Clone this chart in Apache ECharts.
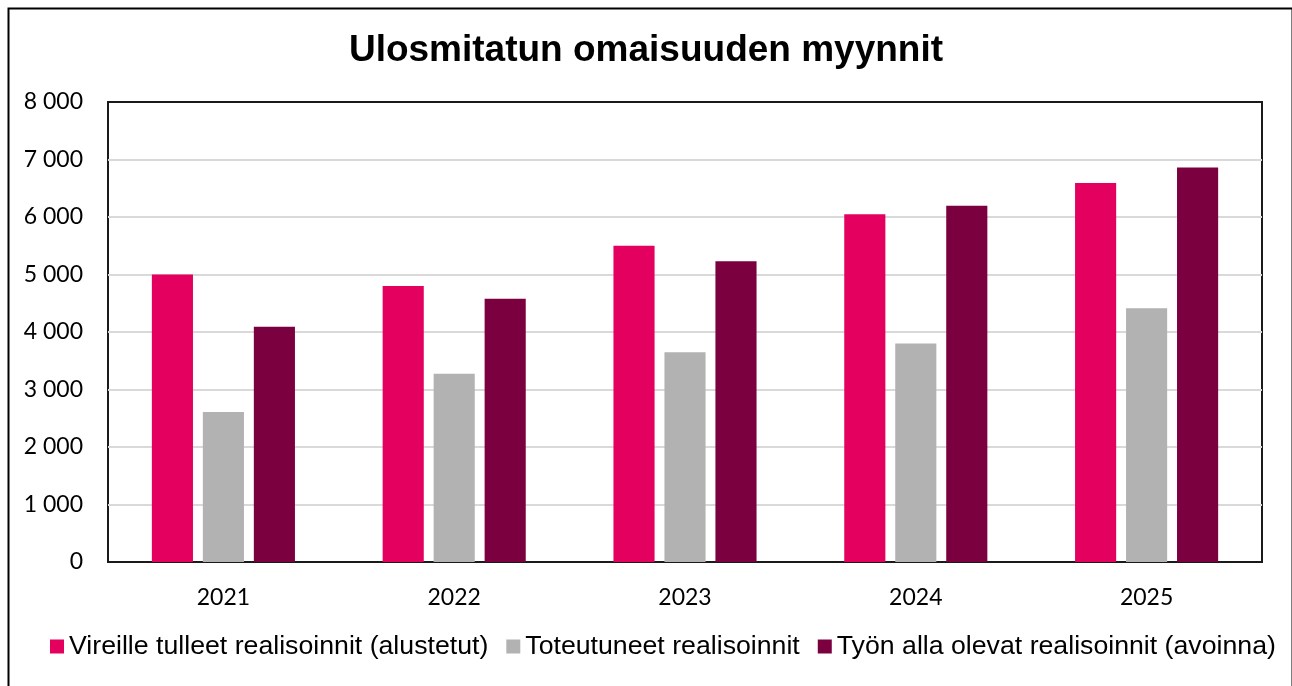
<!DOCTYPE html>
<html>
<head>
<meta charset="utf-8">
<script src="https://cdn.jsdelivr.net/npm/echarts@6/dist/echarts.min.js"></script>
<style>
  html, body { margin: 0; padding: 0; background: #fff; }
  #chart { width: 1292px; height: 686px; }
</style>
</head>
<body>
<div id="chart"></div>
<script>
const years = ['2021', '2022', '2023', '2024', '2025'];
const vireille = [5000, 4800, 5500, 6050, 6590];
const toteutuneet = [2610, 3275, 3650, 3800, 4415];
const tyonAlla = [4090, 4580, 5230, 6195, 6860];
const seriesNames = [
  'Vireille tulleet realisoinnit (alustetut)',
  'Toteutuneet realisoinnit',
  'Työn alla olevat realisoinnit (avoinna)'
];
const colors = ['#E4005F', '#B2B2B2', '#7A0040'];

const fmtThousands = v => String(v).replace(/\B(?=(\d{3})+(?!\d))/g, ' ');

const chart = echarts.init(document.getElementById('chart'), null, { renderer: 'canvas' });

const barBase = {
  type: 'bar',
  barGap: '24%',
  barCategoryGap: '38%'
};

chart.setOption({
  animation: false,
  backgroundColor: '#fff',
  color: colors,
  title: {
    text: 'Ulosmitatun omaisuuden myynnit',
    left: 'center',
    top: 27,
    textStyle: {
      fontFamily: '"Liberation Sans", Arial, sans-serif',
      fontWeight: 'bold',
      fontSize: 37,
      color: '#000'
    }
  },
  grid: {
    left: 108,
    right: 30,
    top: 102,
    bottom: 124,
    show: true,
    borderColor: '#1a1a1a',
    borderWidth: 2,
    containLabel: false
  },
  legend: {
    left: 50,
    right: 0,
    top: 633,
    padding: 0,
    itemWidth: 14,
    itemHeight: 14,
    itemGap: 18,
    icon: 'rect',
    textStyle: {
      fontFamily: '"Liberation Sans", Arial, sans-serif',
      fontSize: 26.7,
      color: '#000'
    },
    data: seriesNames
  },
  xAxis: {
    type: 'category',
    data: years,
    axisTick: { show: false },
    axisLine: { show: true, lineStyle: { color: '#1a1a1a', width: 2 } },
    axisLabel: {
      margin: 24,
      fontFamily: 'Lato, "Open Sans", sans-serif',
      fontSize: 23,
      color: '#000'
    }
  },
  yAxis: {
    type: 'value',
    min: 0,
    max: 8000,
    interval: 1000,
    axisLine: { show: false },
    axisTick: { show: false },
    splitLine: {
      showMinLine: false,
      showMaxLine: false,
      lineStyle: { color: '#D9D9D9', width: 2 }
    },
    axisLabel: {
      margin: 25,
      fontFamily: 'Lato, "Open Sans", sans-serif',
      fontSize: 23,
      color: '#000',
      formatter: v => fmtThousands(v)
    }
  },
  series: [
    Object.assign({ name: seriesNames[0], data: vireille }, barBase),
    Object.assign({ name: seriesNames[1], data: toteutuneet }, barBase),
    Object.assign({ name: seriesNames[2], data: tyonAlla }, barBase)
  ],
  graphic: [{
    type: 'rect',
    left: 6,
    top: 6,
    shape: { width: 1284, height: 700 },
    style: { fill: 'none', stroke: '#000', lineWidth: 2 },
    silent: true,
    z: 100
  }]
});
</script>
</body>
</html>
